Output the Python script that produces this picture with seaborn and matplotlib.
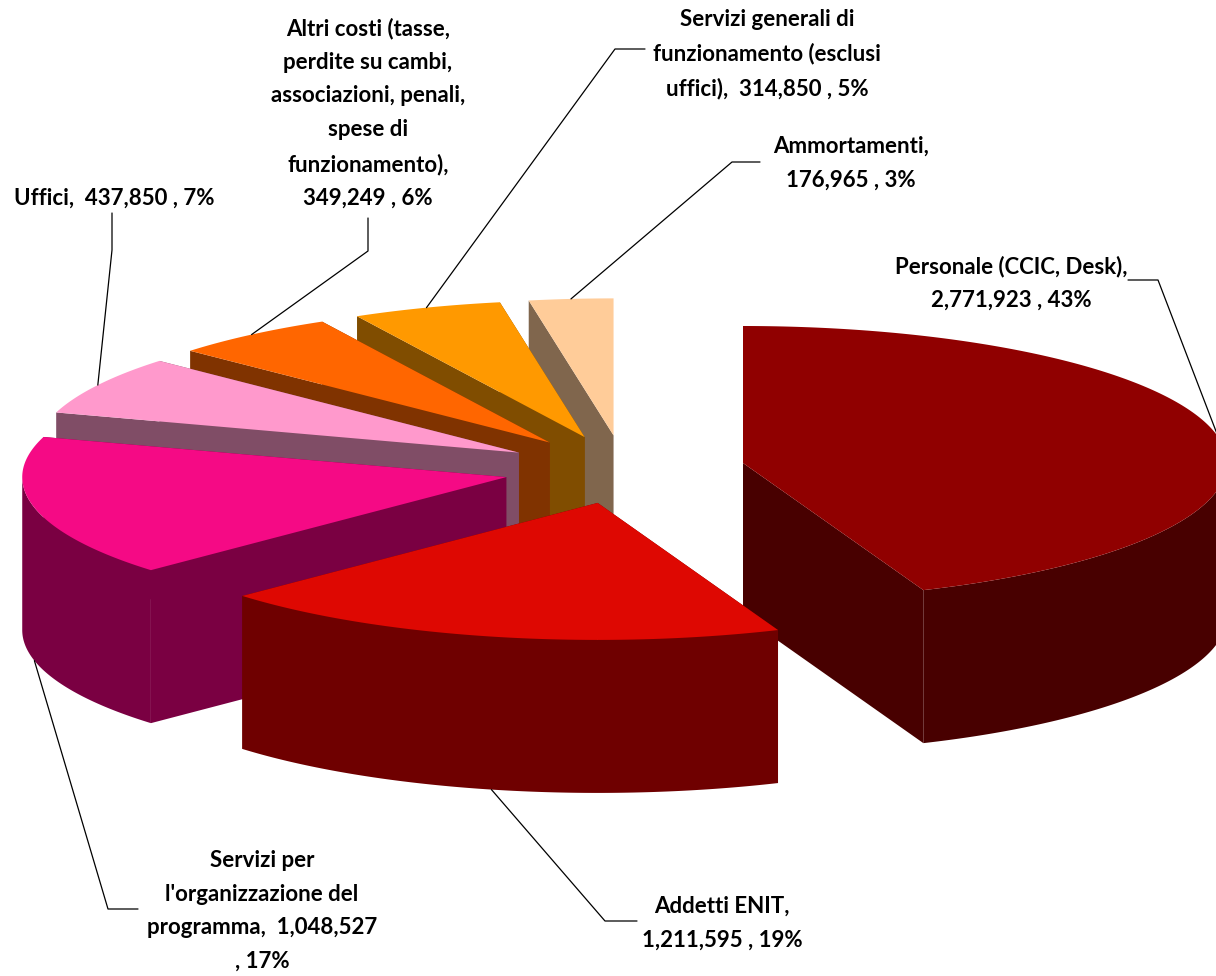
import numpy as np
import matplotlib
matplotlib.use("Agg")
import matplotlib.pyplot as plt
import seaborn as sns

categories = ["Personale", "Addetti ENIT", "Servizi organizzazione", "Uffici",
              "Altri costi", "Servizi generali", "Ammortamenti"]
values = [2771923, 1211595, 1048527, 437850, 349249, 314850, 176965]
percents = [43, 19, 17, 7, 6, 5, 3]
label_templates = [
    "Personale (CCIC, Desk),\n{v} , {p}%",
    "Addetti ENIT,\n{v} , {p}%",
    "Servizi per\nl'organizzazione del\nprogramma,  {v}\n, {p}%",
    "Uffici,  {v} , {p}%",
    "Altri costi (tasse,\nperdite su cambi,\nassociazioni, penali,\nspese di\nfunzionamento),\n{v} , {p}%",
    "Servizi generali di\nfunzionamento (esclusi\nuffici),  {v} , {p}%",
    "Ammortamenti,\n{v} , {p}%",
]
top_colors = ["#900000", "#DE0802", "#F50A85", "#FF99CC", "#FF6600", "#FF9900", "#FFCC99"]
side_colors = ["#480000", "#6F0000", "#7A0042", "#804D66", "#803300", "#804D00", "#80664D"]

# layout of the pie projection (pixels of the figure)
CX, CY, RX, RY, DEPTH, EXPLODE = 624.2, 469.5, 484.0, 137.0, 153.0, 0.25
draw_order = [6, 5, 4, 3, 2, 0, 1]
# label anchor (centre x, centre y) and leader elbows
label_pos = [(1011, 283), (722, 923), (262, 911), (114, 198), (368, 113), (767, 54), (851, 163)]
elbows = [[(1158, 280), (1128, 280)], [(605, 921), (637, 921)], [(108, 909), (138, 909)],
          [(112, 250), (112, 213)], [(368, 251), (368, 218)], [(615, 49), (645, 49)],
          [(732, 162), (760, 162)]]

sns.set_theme(style="white")
plt.rcParams["font.family"] = ["Lato", "DejaVu Sans"]
fig, ax = plt.subplots(figsize=(12.16, 9.76), dpi=100)
ax.set_position([0, 0, 1, 1])
ax.set_xlim(0, 1216)
ax.set_ylim(976, 0)
ax.axis("off")

vals = np.array(values, dtype=float)
edges = np.concatenate([[0], np.cumsum(vals) / vals.sum() * 2 * np.pi])


def rim(cx, cy, t):
    return cx + RX * np.sin(t), cy - RY * np.cos(t)


centres = []
for i in range(len(values)):
    mid = (edges[i] + edges[i + 1]) / 2
    centres.append((CX + EXPLODE * RX * np.sin(mid), CY - EXPLODE * RY * np.cos(mid), mid))

z = 2
for i in draw_order:
    cx, cy, mid = centres[i]
    t = np.linspace(edges[i], edges[i + 1], 200)
    x, y = rim(cx, cy, t)
    # radial walls
    for xe, ye in ((x[0], y[0]), (x[-1], y[-1])):
        ax.fill([cx, xe, xe, cx], [cy, ye, ye + DEPTH, cy + DEPTH],
                color=side_colors[i], lw=0, zorder=z)
    # outer wall: only the half of the rim that faces the viewer
    lo, hi = max(edges[i], np.pi / 2), min(edges[i + 1], 3 * np.pi / 2)
    if hi > lo:
        xw, yw = rim(cx, cy, np.linspace(lo, hi, 200))
        ax.fill(np.r_[xw, xw[::-1]], np.r_[yw, yw[::-1] + DEPTH],
                color=side_colors[i], lw=0, zorder=z)
    # top face
    ax.fill(np.r_[cx, x], np.r_[cy, y], color=top_colors[i], lw=0, zorder=z + 1)
    z += 2

for i in range(len(values)):
    cx, cy, mid = centres[i]
    ax_, ay_ = rim(cx, cy, mid)
    if np.pi / 2 < mid < 3 * np.pi / 2:
        ay_ += DEPTH
    pts = [(ax_, ay_)] + elbows[i]
    ax.plot([p[0] for p in pts], [p[1] for p in pts], color="black", lw=0.9, zorder=50)
    ax.text(label_pos[i][0], label_pos[i][1],
            label_templates[i].format(v=f"{values[i]:,}", p=percents[i]),
            ha="center", va="center", fontsize=16, fontweight="bold", color="black",
            linespacing=1.75, zorder=60)

fig.savefig("out.png", dpi=100, facecolor="white")
